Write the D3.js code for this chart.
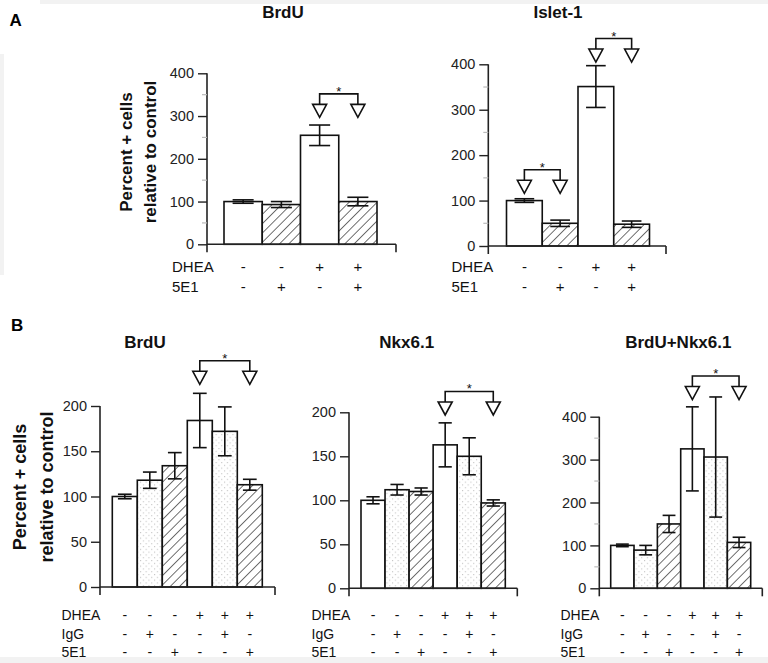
<!DOCTYPE html>
<html><head><meta charset="utf-8">
<script src="https://cdn.jsdelivr.net/npm/d3@7"></script>
<style>html,body{margin:0;padding:0;background:#fff}svg{display:block}text{font-family:"Liberation Sans",Arial,sans-serif}</style>
</head><body>
<script>
// ---------- data ----------
const rowsA = ["DHEA", "5E1"];
const dheaA = ["-", "-", "+", "+"];
const e1A   = ["-", "+", "-", "+"];
const fillA = ["white", "hatch", "white", "hatch"];
const brduAValues = [100, 93, 255, 100];
const brduAErrors = [4, 7, 24, 10];
const isletValues = [100, 50, 351, 48];
const isletErrors = [4, 7, 46, 7];

const rowsB = ["DHEA", "IgG", "5E1"];
const dheaB = ["-", "-", "-", "+", "+", "+"];
const iggB  = ["-", "+", "-", "-", "+", "-"];
const e1B   = ["-", "-", "+", "-", "-", "+"];
const fillB = ["white", "dots", "hatch", "white", "dots", "hatch"];
const brduBValues = [100, 118, 134, 184, 172, 113];
const brduBErrors = [2.5, 9, 14.5, 30, 27, 6];
const nkxValues = [100, 112, 110, 163, 150, 97];
const nkxErrors = [4, 6, 4, 25, 21, 3.5];
const bnValues = [100, 89, 150, 325, 306, 107];
const bnErrors = [3, 11, 20, 98, 140, 12];

const ticksA = [0, 100, 200, 300, 400];
const minorA = [50, 150, 250, 350];
const ticksB1 = [0, 50, 100, 150, 200];
const ticksB3 = [0, 100, 200, 300, 400];
const minorB3 = [50, 150, 250, 350];

// significance: [barFrom, barTo, tip value]
const sigBrduA = [[2, 3, 297]];
const sigIslet = [[0, 1, 116], [2, 3, 405]];
const sigBrduB = [[3, 5, 224]];
const sigNkx = [[3, 5, 197]];
const sigBn = [[3, 5, 440]];

// ---------- drawing ----------
const svg = d3.select("body").append("svg").attr("width", 768).attr("height", 663);

// faint scan borders
svg.append("rect").attr("x", 40).attr("y", 0).attr("width", 728).attr("height", 4).attr("fill", "#f2f2f2");
svg.append("rect").attr("x", 0).attr("y", 54).attr("width", 4).attr("height", 221).attr("fill", "#f2f2f2");
svg.append("rect").attr("x", 0).attr("y", 657).attr("width", 768).attr("height", 6).attr("fill", "#f2f2f2");

const defs = svg.append("defs");
const hs = 6.6;
const hp = defs.append("pattern").attr("id", "hatch").attr("patternUnits", "userSpaceOnUse")
  .attr("width", hs).attr("height", hs).attr("patternTransform", "rotate(45)");
hp.append("rect").attr("width", hs).attr("height", hs).attr("fill", "white");
hp.append("line").attr("x1", 0).attr("y1", 0).attr("x2", 0).attr("y2", hs).attr("stroke", "#333").attr("stroke-width", 1.4);
const ds = 5.6;
const dp = defs.append("pattern").attr("id", "dots").attr("patternUnits", "userSpaceOnUse")
  .attr("width", ds).attr("height", ds);
dp.append("rect").attr("width", ds).attr("height", ds).attr("fill", "white");
dp.append("rect").attr("x", 0).attr("y", 0).attr("width", 1.1).attr("height", 1.1).attr("fill", "#c4c4c4");
dp.append("rect").attr("x", ds / 2).attr("y", ds / 2).attr("width", 1.1).attr("height", 1.1).attr("fill", "#c4c4c4");

function fillOf(f) { return f === "white" ? "white" : "url(#" + f + ")"; }

function chart(cfg) {
  const g = svg.append("g");
  const n = cfg.values.length;
  const y = d3.scaleLinear().domain([0, cfg.max]).range([cfg.y0, cfg.yTop]);
  const x = d3.scaleBand().domain(d3.range(n)).range([cfg.barL, cfg.barR]).padding(0);
  const bw = x.bandwidth();

  // title
  g.append("text").attr("x", cfg.titleX).attr("y", cfg.titleY).attr("text-anchor", "middle")
    .attr("font-weight", "bold").attr("font-size", 17).attr("fill", "#111").text(cfg.title);

  // bars
  g.selectAll("rect.bar").data(cfg.values).join("rect").attr("class", "bar")
    .attr("x", (d, i) => x(i)).attr("width", bw)
    .attr("y", d => y(d)).attr("height", d => cfg.y0 - y(d))
    .attr("fill", (d, i) => fillOf(cfg.fills[i]))
    .attr("stroke", "#111").attr("stroke-width", 1.6);

  // error bars
  const cap = bw * 0.55 / 2;
  cfg.values.forEach((v, i) => {
    const cx = x(i) + bw / 2, e = cfg.errors[i];
    const eg = g.append("g").attr("stroke", "#111").attr("stroke-width", 1.6);
    eg.append("line").attr("x1", cx).attr("x2", cx).attr("y1", y(v + e)).attr("y2", y(v - e));
    eg.append("line").attr("x1", cx - cap).attr("x2", cx + cap).attr("y1", y(v + e)).attr("y2", y(v + e));
    eg.append("line").attr("x1", cx - cap).attr("x2", cx + cap).attr("y1", y(v - e)).attr("y2", y(v - e));
  });

  // axes
  const ax = g.append("g").attr("stroke", "#222").attr("stroke-width", 1.6);
  ax.append("line").attr("x1", cfg.axisX).attr("x2", cfg.axisX).attr("y1", y(cfg.max)).attr("y2", cfg.y0 + 8);
  ax.append("line").attr("x1", cfg.axisX).attr("x2", cfg.xEnd).attr("y1", cfg.y0).attr("y2", cfg.y0);
  ax.append("line").attr("x1", cfg.xEnd).attr("x2", cfg.xEnd).attr("y1", cfg.y0).attr("y2", cfg.y0 + 8);
  const yAxis = d3.axisLeft(y).tickValues(cfg.ticks).tickSize(9).tickPadding(4).tickFormat(d3.format("d"));
  const ya = g.append("g").attr("transform", `translate(${cfg.axisX},0)`).call(yAxis);
  ya.select(".domain").remove();
  ya.selectAll(".tick line").attr("stroke", "#222").attr("stroke-width", 1.4);
  ya.selectAll(".tick text").attr("font-size", 14.5).attr("fill", "#222")
    .style("font-family", '"Liberation Sans",Arial,sans-serif');
  if (cfg.minor) {
    g.selectAll("line.minor").data(cfg.minor).join("line").attr("class", "minor")
      .attr("x1", cfg.axisX - 5).attr("x2", cfg.axisX).attr("y1", d => y(d)).attr("y2", d => y(d))
      .attr("stroke", "#bbb").attr("stroke-width", 1.2);
  }

  // condition rows
  cfg.rows.forEach((lab, r) => {
    const by = cfg.rowY[r];
    g.append("text").attr("x", cfg.rowX).attr("y", by).attr("font-size", cfg.rowFont).attr("fill", "#111").text(lab);
    g.selectAll(null).data(cfg.signs[r]).join("text")
      .attr("x", (d, i) => x(i) + bw / 2).attr("y", by).attr("text-anchor", "middle")
      .attr("font-size", cfg.rowFont).attr("fill", "#111").text(d => d);
  });

  // significance markers
  cfg.sig.forEach(([a, b, tip]) => {
    const tipY = y(tip), triTop = tipY - 13, brY = triTop - 10.5;
    const xa = x(a) + bw / 2, xb = x(b) + bw / 2;
    g.append("path").attr("d", `M${xa},${triTop}V${brY}H${xb}V${triTop}`)
      .attr("fill", "none").attr("stroke", "#111").attr("stroke-width", 1.6);
    [xa, xb].forEach(cx => {
      g.append("path").attr("d", `M${cx - 7},${triTop}L${cx + 7},${triTop}L${cx},${tipY}Z`)
        .attr("fill", "white").attr("stroke", "#111").attr("stroke-width", 1.6).attr("stroke-linejoin", "miter");
    });
    g.append("text").attr("x", (xa + xb) / 2).attr("y", brY + 2).attr("text-anchor", "middle")
      .attr("font-size", 13).attr("fill", "#111").text("*");
  });

  // y label
  if (cfg.ylabel) {
    const L = cfg.ylabel;
    ["Percent + cells", "relative to control"].forEach((t, k) => {
      g.append("text").attr("transform", `translate(${L.x[k]},${L.cy}) rotate(-90)`)
        .attr("text-anchor", "middle").attr("font-weight", "bold").attr("font-size", L.size)
        .attr("fill", "#111").text(t);
    });
  }
}

// panel letters
svg.append("text").attr("x", 9.5).attr("y", 26).attr("font-weight", "bold").attr("font-size", 17).text("A");
svg.append("text").attr("x", 11).attr("y", 331).attr("font-weight", "bold").attr("font-size", 17).text("B");

chart({ title: "BrdU", titleX: 283, titleY: 18, values: brduAValues, errors: brduAErrors, fills: fillA,
  max: 400, y0: 244.3, yTop: 73.3, axisX: 207, xEnd: 396, barL: 224, barR: 377,
  ticks: ticksA, minor: minorA, rows: rowsA, signs: [dheaA, e1A], rowX: 172, rowY: [272, 292], rowFont: 15,
  sig: sigBrduA, ylabel: { x: [131.5, 156], cy: 152, size: 17 } });

chart({ title: "Islet-1", titleX: 558, titleY: 18, values: isletValues, errors: isletErrors, fills: fillA,
  max: 400, y0: 246, yTop: 64.3, axisX: 488.3, xEnd: 666, barL: 506.5, barR: 649.5,
  ticks: ticksA, minor: minorA, rows: rowsA, signs: [dheaA, e1A], rowX: 451.5, rowY: [272, 292], rowFont: 15,
  sig: sigIslet });

chart({ title: "BrdU", titleX: 145, titleY: 348, values: brduBValues, errors: brduBErrors, fills: fillB,
  max: 200, y0: 587, yTop: 406, axisX: 100, xEnd: 275, barL: 112.3, barR: 262.3,
  ticks: ticksB1, rows: rowsB, signs: [dheaB, iggB, e1B], rowX: 61.5, rowY: [619.5, 638.5, 657], rowFont: 14,
  sig: sigBrduB, ylabel: { x: [26, 53], cy: 487, size: 18 } });

chart({ title: "Nkx6.1", titleX: 406.7, titleY: 348, values: nkxValues, errors: nkxErrors, fills: fillB,
  max: 200, y0: 588.3, yTop: 412.3, axisX: 349, xEnd: 517.3, barL: 361, barR: 505.3,
  ticks: ticksB1, rows: rowsB, signs: [dheaB, iggB, e1B], rowX: 311.5, rowY: [619.5, 638.5, 657], rowFont: 14,
  sig: sigNkx });

chart({ title: "BrdU+Nkx6.1", titleX: 678.3, titleY: 348, values: bnValues, errors: bnErrors, fills: fillB,
  max: 400, y0: 588.3, yTop: 416.7, axisX: 599.3, xEnd: 762.3, barL: 610.7, barR: 750.7,
  ticks: ticksB3, minor: minorB3, rows: rowsB, signs: [dheaB, iggB, e1B], rowX: 560.5, rowY: [619.5, 638.5, 657], rowFont: 14,
  sig: sigBn });
</script>
</body></html>
